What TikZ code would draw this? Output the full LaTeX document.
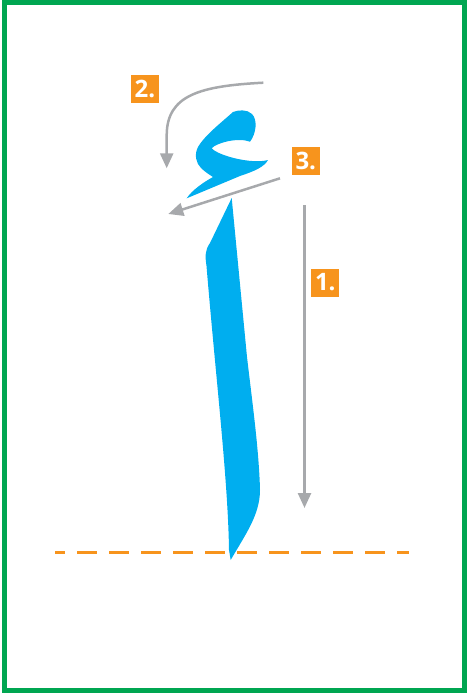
\documentclass[tikz,border=0pt]{standalone}
\usepackage{fontspec}
\setsansfont{Open Sans}
\usepackage{tikz}
\usetikzlibrary{arrows.meta}
\definecolor{letterblue}{HTML}{00AEEF}
\definecolor{strokegray}{HTML}{A7A9AC}
\definecolor{steporange}{HTML}{F7941D}
\definecolor{framegreen}{HTML}{00A651}
\tikzset{
  frameline/.style={line width=5pt,framegreen},
  baseline/.style={line width=3pt,steporange,dash pattern=on 20pt off 12pt,dash phase=10pt},
  letter/.style={fill=letterblue,draw=none},
  strokearrow/.style={-{Triangle[width=13pt,length=15pt]},line width=2.5pt,strokegray},
  steplabel/.style={fill=steporange,text=white,minimum size=28pt,inner sep=0pt,
    font=\sffamily\bfseries\fontsize{24}{24}\selectfont}
}

\begin{document}
\begin{tikzpicture}[x=1pt,y=-1pt]
  \useasboundingbox (0,0) rectangle (467,693);
  \draw[frameline] (4.5,3) rectangle (464.5,690.5);
  % baseline
  \draw[baseline] (55,552.7) -- (409,552.7);
  % alif
  \fill[letter] (231.7,198) -- (210,243)
    .. controls (205,250) and (205,256) .. (206.5,266)
    .. controls (216,380) and (228,480) .. (229,550) -- (230.7,560)
    .. controls (245,535) and (260,515) .. (260,490)
    .. controls (259,450) and (252,400) .. (247,357) -- cycle;
  % hamza
  \fill[letter] (268,160)
    .. controls (258,163) and (240,160) .. (230,157)
    .. controls (220,154) and (214,151) .. (211.7,148.3)
    .. controls (216,143) and (238,137) .. (250,141.7)
    .. controls (256,134) and (258,120) .. (252,114)
    .. controls (247,109) and (238,110) .. (233,112)
    .. controls (222,122) and (205,135) .. (198,147)
    .. controls (194,155) and (196,163) .. (201,168)
    .. controls (205,172) and (210,175) .. (213,177)
    .. controls (204,182) and (192,190) .. (186.7,198.3)
    -- (240,176)
    .. controls (255,171) and (264,167) .. cycle;
  % stroke order
  \coordinate (s1a) at (304.5,205);
  \coordinate (s1b) at (304.5,508);
  \coordinate (s2a) at (263.3,82.7);
  \coordinate (s2b) at (166.7,168.3);
  \coordinate (s3a) at (280,178.3);
  \coordinate (s3b) at (168.3,214);
  \draw[strokearrow] (s1a) -- (s1b);
  \draw[strokearrow] (s2a) .. controls (200,86) and (167,95) .. (166.7,135) -- (s2b);
  \draw[strokearrow] (s3a) -- (s3b);
  \node[steplabel] (n1) at (325.3,282.5) {1.};
  \node[steplabel] (n2) at (145,89) {2.};
  \node[steplabel] (n3) at (305.8,161.2) {3.};
\end{tikzpicture}
\end{document}
